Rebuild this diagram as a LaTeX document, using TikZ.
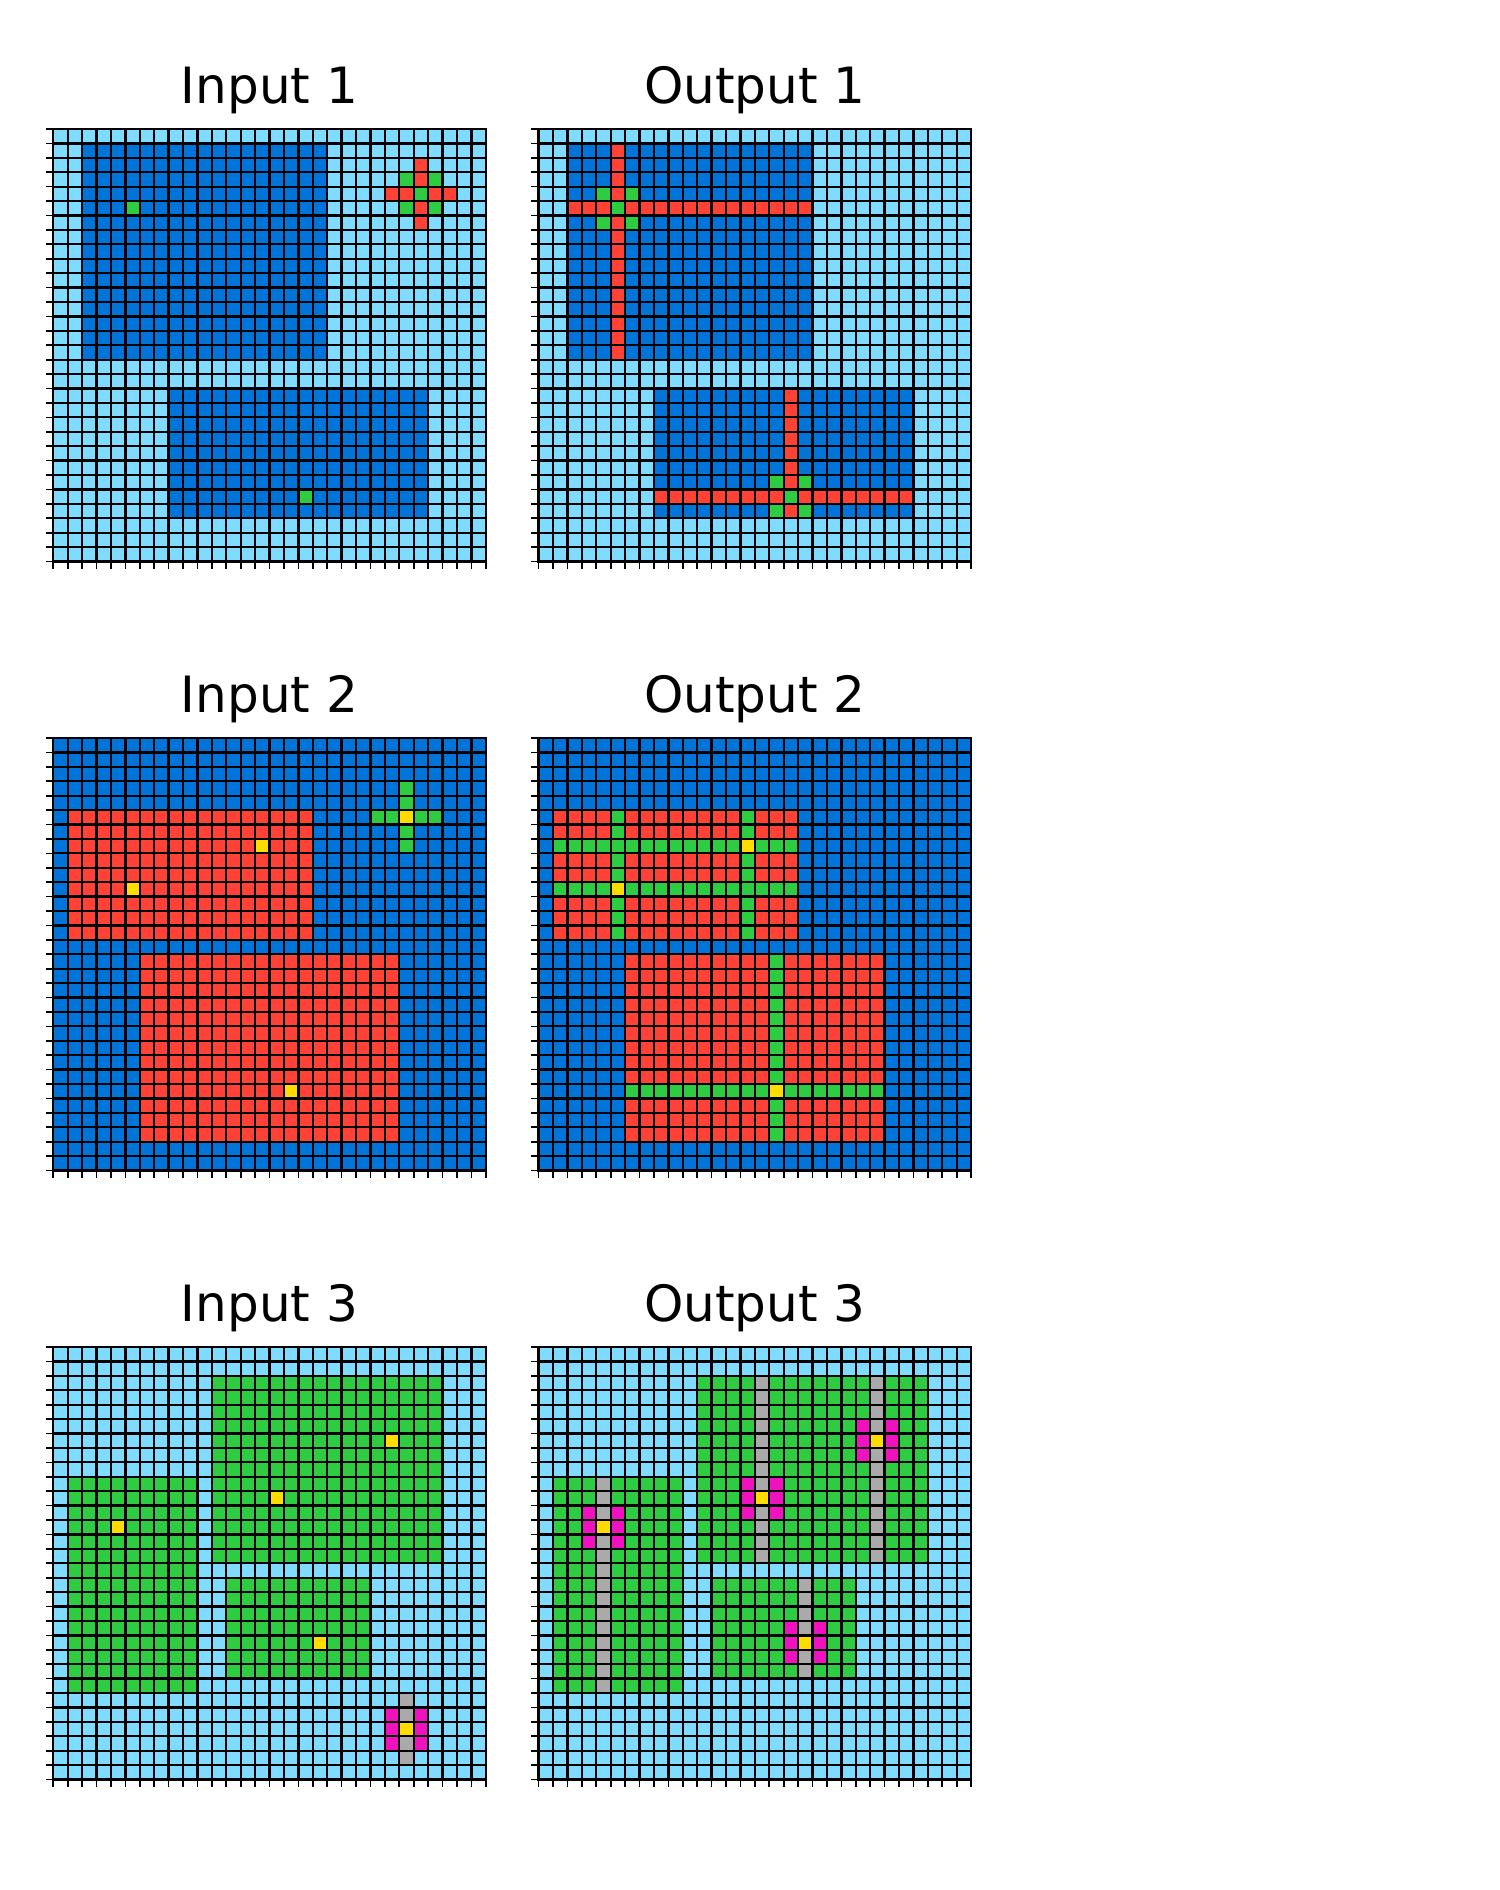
\documentclass[tikz,border=0pt]{standalone}
\usepackage{fontspec}
\setmainfont{DejaVu Sans}
\definecolor{arcblue}{HTML}{0074D9}
\definecolor{arcred}{HTML}{FF4136}
\definecolor{arcgreen}{HTML}{2ECC40}
\definecolor{arcyellow}{HTML}{FFDC00}
\definecolor{arcgrey}{HTML}{AAAAAA}
\definecolor{arcmagenta}{HTML}{F012BE}
\definecolor{arclight}{HTML}{7FDBFF}
\tikzset{
  gline/.style={draw=black,line width=1.1pt,line cap=rect},
  tickm/.style={draw=black,line width=0.8pt},
  titletext/.style={anchor=base,inner sep=0pt,font=\fontsize{24}{28}\selectfont},
  gridbox/.style={x=6.92pt,y=-6.92pt}
}
% rectangle of cells: rows r1..r2, cols c1..c2
\newcommand{\gridrect}[5]{\fill[#5] (#2,#1) rectangle (#4+1,#3+1);}
\newcommand{\gridcell}[3]{\fill[#3] (#2,#1) rectangle ++(1,1);}
\newcommand{\gridframe}{%
  \foreach \k in {0,...,30}{%
    \draw[gline] (\k,0) -- (\k,30);
    \draw[gline] (0,\k) -- (30,\k);
    \draw[tickm] (0,\k) -- ++(-3.5pt,0pt);
    \draw[tickm] (\k,30) -- ++(0pt,-3.5pt);
  }}
% flower pattern for output 3: centre r c
\newcommand{\flower}[2]{%
  \foreach \d in {-1,0,1}{%
    \gridcell{#1+\d}{#2-1}{arcmagenta}
    \gridcell{#1+\d}{#2+1}{arcmagenta}}
  \gridcell{#1}{#2}{arcyellow}}
\begin{document}
\begin{tikzpicture}[x=0.48pt,y=-0.48pt]
\useasboundingbox (0,0) rectangle (1500,1890);
\fill[white] (0,0) rectangle (1500,1890);

% titles
\node[titletext] (ti1) at (269.5,103.5) {Input 1};
\node[titletext] (to1) at (755,103.5) {Output 1};
\node[titletext] (ti2) at (269.5,712.5) {Input 2};
\node[titletext] (to2) at (755,712.5) {Output 2};
\node[titletext] (ti3) at (269.5,1321.5) {Input 3};
\node[titletext] (to3) at (755,1321.5) {Output 3};

% ---------- Input 1 ----------
\begin{scope}[shift={(53.3,129)},gridbox]
  \fill[arclight] (0,0) rectangle (30,30);
  \gridrect{1}{2}{15}{18}{arcblue}
  \gridrect{18}{8}{26}{25}{arcblue}
  \gridcell{5}{5}{arcgreen}
  \gridcell{25}{17}{arcgreen}
  \foreach \r/\c in {2/25,3/25,5/25,6/25,4/23,4/24,4/26,4/27}{\gridcell{\r}{\c}{arcred}}
  \foreach \r/\c in {4/25,3/24,3/26,5/24,5/26}{\gridcell{\r}{\c}{arcgreen}}
  \gridframe
\end{scope}

% ---------- Output 1 ----------
\begin{scope}[shift={(538.6,129)},gridbox]
  \fill[arclight] (0,0) rectangle (30,30);
  \gridrect{1}{2}{15}{18}{arcblue}
  \gridrect{18}{8}{26}{25}{arcblue}
  \gridrect{5}{2}{5}{18}{arcred}
  \gridrect{1}{5}{15}{5}{arcred}
  \foreach \r/\c in {5/5,4/4,4/6,6/4,6/6}{\gridcell{\r}{\c}{arcgreen}}
  \gridrect{25}{8}{25}{25}{arcred}
  \gridrect{18}{17}{26}{17}{arcred}
  \foreach \r/\c in {25/17,24/16,24/18,26/16,26/18}{\gridcell{\r}{\c}{arcgreen}}
  \gridframe
\end{scope}

% ---------- Input 2 ----------
\begin{scope}[shift={(53.3,738)},gridbox]
  \fill[arcblue] (0,0) rectangle (30,30);
  \gridrect{5}{1}{13}{17}{arcred}
  \gridrect{15}{6}{27}{23}{arcred}
  \foreach \r/\c in {7/14,10/5,24/16,5/24}{\gridcell{\r}{\c}{arcyellow}}
  \foreach \r/\c in {3/24,4/24,6/24,7/24,5/22,5/23,5/25,5/26}{\gridcell{\r}{\c}{arcgreen}}
  \gridframe
\end{scope}

% ---------- Output 2 ----------
\begin{scope}[shift={(538.6,738)},gridbox]
  \fill[arcblue] (0,0) rectangle (30,30);
  \gridrect{5}{1}{13}{17}{arcred}
  \gridrect{15}{6}{27}{23}{arcred}
  \gridrect{7}{1}{7}{17}{arcgreen}
  \gridrect{10}{1}{10}{17}{arcgreen}
  \gridrect{5}{5}{13}{5}{arcgreen}
  \gridrect{5}{14}{13}{14}{arcgreen}
  \gridrect{15}{16}{27}{16}{arcgreen}
  \gridrect{24}{6}{24}{23}{arcgreen}
  \foreach \r/\c in {7/14,10/5,24/16}{\gridcell{\r}{\c}{arcyellow}}
  \gridframe
\end{scope}

% ---------- Input 3 ----------
\begin{scope}[shift={(53.3,1347)},gridbox]
  \fill[arclight] (0,0) rectangle (30,30);
  \gridrect{2}{11}{14}{26}{arcgreen}
  \gridrect{9}{1}{23}{9}{arcgreen}
  \gridrect{16}{12}{22}{21}{arcgreen}
  \foreach \r/\c in {6/23,10/15,12/4,20/18,26/24}{\gridcell{\r}{\c}{arcyellow}}
  \foreach \r/\c in {24/24,25/24,27/24,28/24}{\gridcell{\r}{\c}{arcgrey}}
  \foreach \r/\c in {25/23,26/23,27/23,25/25,26/25,27/25}{\gridcell{\r}{\c}{arcmagenta}}
  \gridframe
\end{scope}

% ---------- Output 3 ----------
\begin{scope}[shift={(538.6,1347)},gridbox]
  \fill[arclight] (0,0) rectangle (30,30);
  \gridrect{2}{11}{14}{26}{arcgreen}
  \gridrect{9}{1}{23}{9}{arcgreen}
  \gridrect{16}{12}{22}{21}{arcgreen}
  \gridrect{2}{23}{14}{23}{arcgrey}
  \gridrect{2}{15}{14}{15}{arcgrey}
  \gridrect{9}{4}{23}{4}{arcgrey}
  \gridrect{16}{18}{22}{18}{arcgrey}
  \flower{6}{23}
  \flower{10}{15}
  \flower{12}{4}
  \flower{20}{18}
  \gridframe
\end{scope}
\end{tikzpicture}
\end{document}
